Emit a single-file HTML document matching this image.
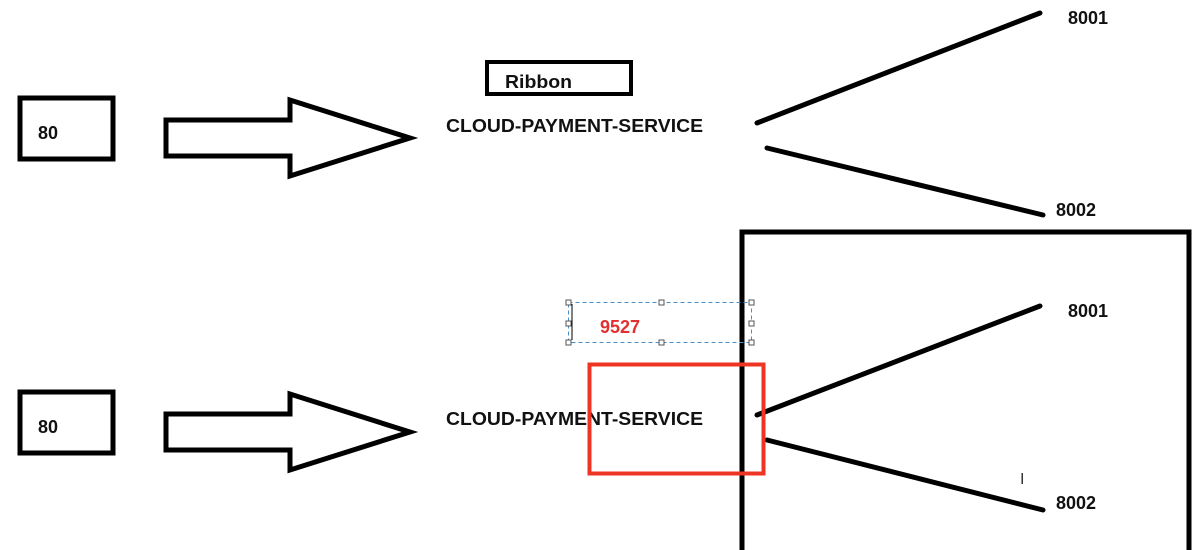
<!DOCTYPE html>
<html><head><style>body{margin:0;background:#fff}svg{display:block}text{font-family:"Liberation Sans",sans-serif;font-weight:bold;fill:#111}</style></head><body>
<svg width="1193" height="550" viewBox="0 0 1193 550">
<g fill="none" stroke="#000" stroke-width="5" stroke-linejoin="miter">
<rect x="20" y="98" width="93" height="61"/>
<polygon points="166,120 290,120 290,100 410,138 290,176 290,156 166,156"/>
<rect x="487" y="62" width="144" height="32" stroke-width="4"/>
<line x1="757" y1="123" x2="1040" y2="13" stroke-linecap="round"/>
<line x1="767" y1="148" x2="1043" y2="215" stroke-linecap="round"/>
<rect x="20" y="392" width="93" height="61"/>
<polygon points="166,414 290,414 290,394 410,432 290,470 290,450 166,450"/>
<rect x="742" y="232" width="447" height="322"/>
<line x1="757" y1="415" x2="1040" y2="306" stroke-linecap="round"/>
<line x1="767" y1="440" x2="1043" y2="510" stroke-linecap="round"/>
</g>
<text x="38" y="139" font-size="18">80</text>
<text x="38" y="433" font-size="18">80</text>
<text x="505" y="88" font-size="18" textLength="67" lengthAdjust="spacingAndGlyphs">Ribbon</text>
<text x="446" y="132" font-size="18" textLength="257" lengthAdjust="spacingAndGlyphs">CLOUD-PAYMENT-SERVICE</text>
<text x="446" y="425" font-size="18" textLength="257" lengthAdjust="spacingAndGlyphs">CLOUD-PAYMENT-SERVICE</text>
<text x="1068" y="24" font-size="18">8001</text>
<text x="1056" y="216" font-size="18">8002</text>
<text x="1068" y="317" font-size="18">8001</text>
<text x="1056" y="509" font-size="18">8002</text>
<rect x="568.5" y="302.5" width="183" height="40" fill="none" stroke="#4a90c8" stroke-width="1" stroke-dasharray="4,3"/>
<line x1="572" y1="304" x2="572" y2="340" stroke="#000" stroke-width="1"/>
<g fill="#fff" stroke="#555" stroke-width="1">
<rect x="566" y="300" width="5" height="5"/><rect x="659" y="300" width="5" height="5"/><rect x="749" y="300" width="5" height="5"/>
<rect x="566" y="321" width="5" height="5"/><rect x="749" y="321" width="5" height="5"/>
<rect x="566" y="340" width="5" height="5"/><rect x="659" y="340" width="5" height="5"/><rect x="749" y="340" width="5" height="5"/>
</g>
<text x="600" y="333" font-size="18" style="fill:#e03030">9527</text>
<rect x="589.5" y="364.5" width="174" height="109" fill="none" stroke="#ee3524" stroke-width="4"/>
<text x="1020" y="484" font-size="16" style="font-weight:normal;fill:#333">I</text>
</svg>
</body></html>
